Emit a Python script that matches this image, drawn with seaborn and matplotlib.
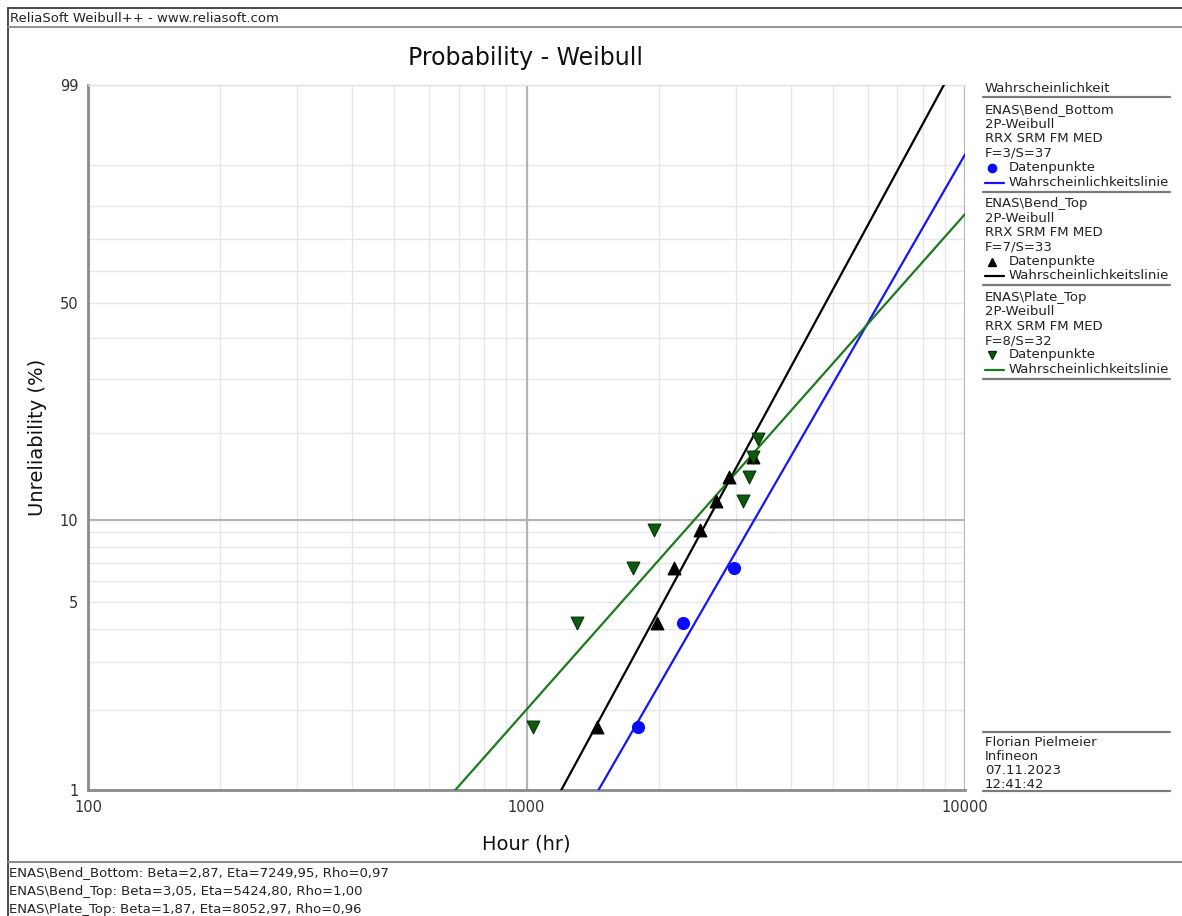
import numpy as np
import pandas as pd
import matplotlib
matplotlib.use("Agg")
import matplotlib.pyplot as plt
import seaborn as sns
from matplotlib.lines import Line2D

# ---- data -------------------------------------------------------------
series_names = ["ENAS\\Bend_Bottom", "ENAS\\Bend_Top", "ENAS\\Plate_Top"]
series_counts = ["F=3/S=37", "F=7/S=33", "F=8/S=32"]

bend_bottom_hours = [1800, 2270, 2980]
bend_bottom_unrel = [1.73, 4.21, 6.68]

bend_top_hours = [1450, 1980, 2175, 2490, 2710, 2900, 3280]
bend_top_unrel = [1.73, 4.21, 6.68, 9.16, 11.63, 14.11, 16.58]

plate_top_hours = [1037, 1305, 1745, 1950, 3125, 3225, 3290, 3380]
plate_top_unrel = [1.73, 4.21, 6.68, 9.16, 11.63, 14.11, 16.58, 19.06]

betas = [2.87, 3.05, 1.87]
etas = [7249.95, 5424.80, 8052.97]
rhos = [0.97, 1.00, 0.96]

y_ticks = [1, 5, 10, 50, 99]
y_minor = [2, 3, 4, 6, 7, 8, 9, 20, 30, 40, 60, 70, 80, 90]
x_ticks = [100, 1000, 10000]

# ---- styling ----------------------------------------------------------
sns.set_theme(style="white")
plt.rcParams["font.family"] = ["DejaVu Sans"]

W, H = 1182, 916
line_colors = ["#1414ff", "#000000", "#1c7a1c"]
marker_fill = ["#0a0aff", "#000000", "#0d5c0d"]
marker_edge = ["#0a0aff", "#000000", "#053305"]
marker_style = ["o", "^", "v"]
marker_size = [75, 85, 85]


def px(x, y):
    return x / W, 1 - y / H


def weib(p):
    p = np.clip(np.asarray(p, dtype=float), 1e-9, 100 - 1e-9)
    return np.log(-np.log(1 - p / 100.0))


def weib_inv(w):
    return 100.0 * (1 - np.exp(-np.exp(np.asarray(w, dtype=float))))


fig = plt.figure(figsize=(W / 100, H / 100), dpi=100)
fig.patch.set_facecolor("white")
ax = fig.add_axes([88 / W, 1 - 790 / H, (965 - 88) / W, (790 - 85) / H])
ax.set_facecolor("white")
ax.set_xscale("log")
ax.set_yscale("function", functions=(weib, weib_inv))

# ---- points -------------------------------------------------------------
points = pd.concat([
    pd.DataFrame({"hours": bend_bottom_hours, "unrel": bend_bottom_unrel, "set": series_names[0]}),
    pd.DataFrame({"hours": bend_top_hours, "unrel": bend_top_unrel, "set": series_names[1]}),
    pd.DataFrame({"hours": plate_top_hours, "unrel": plate_top_unrel, "set": series_names[2]}),
], ignore_index=True)

# ---- fitted Weibull lines from the reported parameters ------------------
t = np.geomspace(100, 10000, 400)
fit_rows = []
for name, b, e in zip(series_names, betas, etas):
    F = 100 * (1 - np.exp(-(t / e) ** b))
    keep = (F > 0.5) & (F < 99.6)
    fit_rows.append(pd.DataFrame({"hours": t[keep], "unrel": F[keep], "set": name}))
fits = pd.concat(fit_rows, ignore_index=True)

for i, name in enumerate(series_names):
    sns.lineplot(data=fits[fits["set"] == name], x="hours", y="unrel",
                 color=line_colors[i], lw=1.6, estimator=None, sort=False,
                 ax=ax, legend=False, zorder=3)
for i, name in enumerate(series_names):
    sns.scatterplot(data=points[points["set"] == name], x="hours", y="unrel",
                    marker=marker_style[i], s=marker_size[i],
                    color=marker_fill[i], edgecolor=marker_edge[i], linewidth=0.8,
                    ax=ax, legend=False, zorder=4)

ax.set_xlim(100, 10000)
ax.set_ylim(1, 99)

# ---- axes, ticks, grid --------------------------------------------------
ax.set_yticks(y_ticks)
ax.set_yticklabels([str(v) for v in y_ticks])
ax.set_yticks(y_minor, minor=True)
ax.set_xticks(x_ticks)
ax.set_xticklabels([str(v) for v in x_ticks])
ax.xaxis.set_minor_locator(matplotlib.ticker.LogLocator(base=10, subs=np.arange(2, 10)))
ax.xaxis.set_minor_formatter(matplotlib.ticker.NullFormatter())

ax.grid(which="both", color="#e6e6e6", lw=1.0, zorder=0)
ax.axvline(1000, color="#b4b4b4", lw=1.5, zorder=1)
ax.axvline(10000, color="#b4b4b4", lw=1.5, zorder=1)
ax.axhline(10, color="#b4b4b4", lw=1.5, zorder=1)
ax.set_axisbelow(True)

ax.tick_params(axis="both", which="major", direction="out", length=5, width=1,
               color="#808080", labelsize=10.5, labelcolor="#333333", pad=2)
ax.tick_params(axis="both", which="minor", length=0)

for side in ["left", "bottom"]:
    ax.spines[side].set_color("#8a8a8a")
    ax.spines[side].set_linewidth(2)
ax.spines["top"].set_color("#e2e2e2")
ax.spines["top"].set_linewidth(1)
ax.spines["right"].set_visible(False)

ax.set_xlabel("Hour (hr)", fontsize=14, color="#111111", labelpad=14)
ax.set_ylabel("Unreliability (%)", fontsize=14, color="#111111", labelpad=9)
fig.text(*px(526, 58), "Probability - Weibull", fontsize=17, ha="center", va="center",
         color="#111111")

# ---- page frame ---------------------------------------------------------
frame = "#3a3a3a"
fig.add_artist(Line2D([8 / W, 1], [1 - 8 / H, 1 - 8 / H], color=frame, lw=1.3))
fig.add_artist(Line2D([8 / W, 8 / W], [0, 1 - 8 / H], color=frame, lw=1.3))
fig.add_artist(Line2D([8 / W, 1], [1 - 27 / H, 1 - 27 / H], color="#8a8a8a", lw=1.3))
fig.add_artist(Line2D([8 / W, 1], [1 - 862 / H, 1 - 862 / H], color="#8a8a8a", lw=1.5))
fig.text(*px(10, 18), "ReliaSoft Weibull++ - www.reliasoft.com", fontsize=9.5,
         ha="left", va="center", color="#222222")

for k, (name, b, e, r) in enumerate(zip(series_names, betas, etas, rhos)):
    txt = f"{name}: Beta={b:.2f}, Eta={e:.2f}, Rho={r:.2f}".replace(".", ",")
    fig.text(*px(9, 873 + 18.5 * k), txt, fontsize=9.5, ha="left", va="center",
             color="#222222")

# ---- legend panel -------------------------------------------------------
tx = 985
sep = "#7a7a7a"


def hline(y, x0=983, x1=1170, lw=1.6):
    fig.add_artist(Line2D([x0 / W, x1 / W], [1 - y / H, 1 - y / H], color=sep, lw=lw))


fig.text(*px(tx, 89), "Wahrscheinlichkeit", fontsize=9.5, ha="left", va="center",
         color="#222222")
hline(97)

y0 = 110
for i, name in enumerate(series_names):
    rows = [name, "2P-Weibull", "RRX SRM FM MED", series_counts[i]]
    for j, row in enumerate(rows):
        fig.text(*px(tx, y0 + 14.5 * j), row, fontsize=9.5, ha="left", va="center",
                 color="#222222")
    ym = y0 + 14.5 * 4
    fig.add_artist(Line2D([992 / W], [1 - ym / H], marker=marker_style[i], ms=6,
                          color=marker_fill[i], mec=marker_edge[i], lw=0))
    fig.text(*px(1009, ym), "Datenpunkte", fontsize=9.5, ha="left", va="center",
             color="#222222")
    yl = y0 + 14.5 * 5
    fig.add_artist(Line2D([985 / W, 1004 / W], [1 - yl / H, 1 - yl / H],
                          color=line_colors[i], lw=1.6))
    fig.text(*px(1009, yl), "Wahrscheinlichkeitslinie", fontsize=9.5, ha="left",
             va="center", color="#222222")
    hline(yl + 9)
    y0 = yl + 21

hline(732)
for j, row in enumerate(["Florian Pielmeier", "Infineon", "07.11.2023", "12:41:42"]):
    fig.text(*px(tx, 743 + 13.7 * j), row, fontsize=9.5, ha="left", va="center",
             color="#222222")
hline(791)

fig.savefig("out.png", dpi=100, facecolor="white")
